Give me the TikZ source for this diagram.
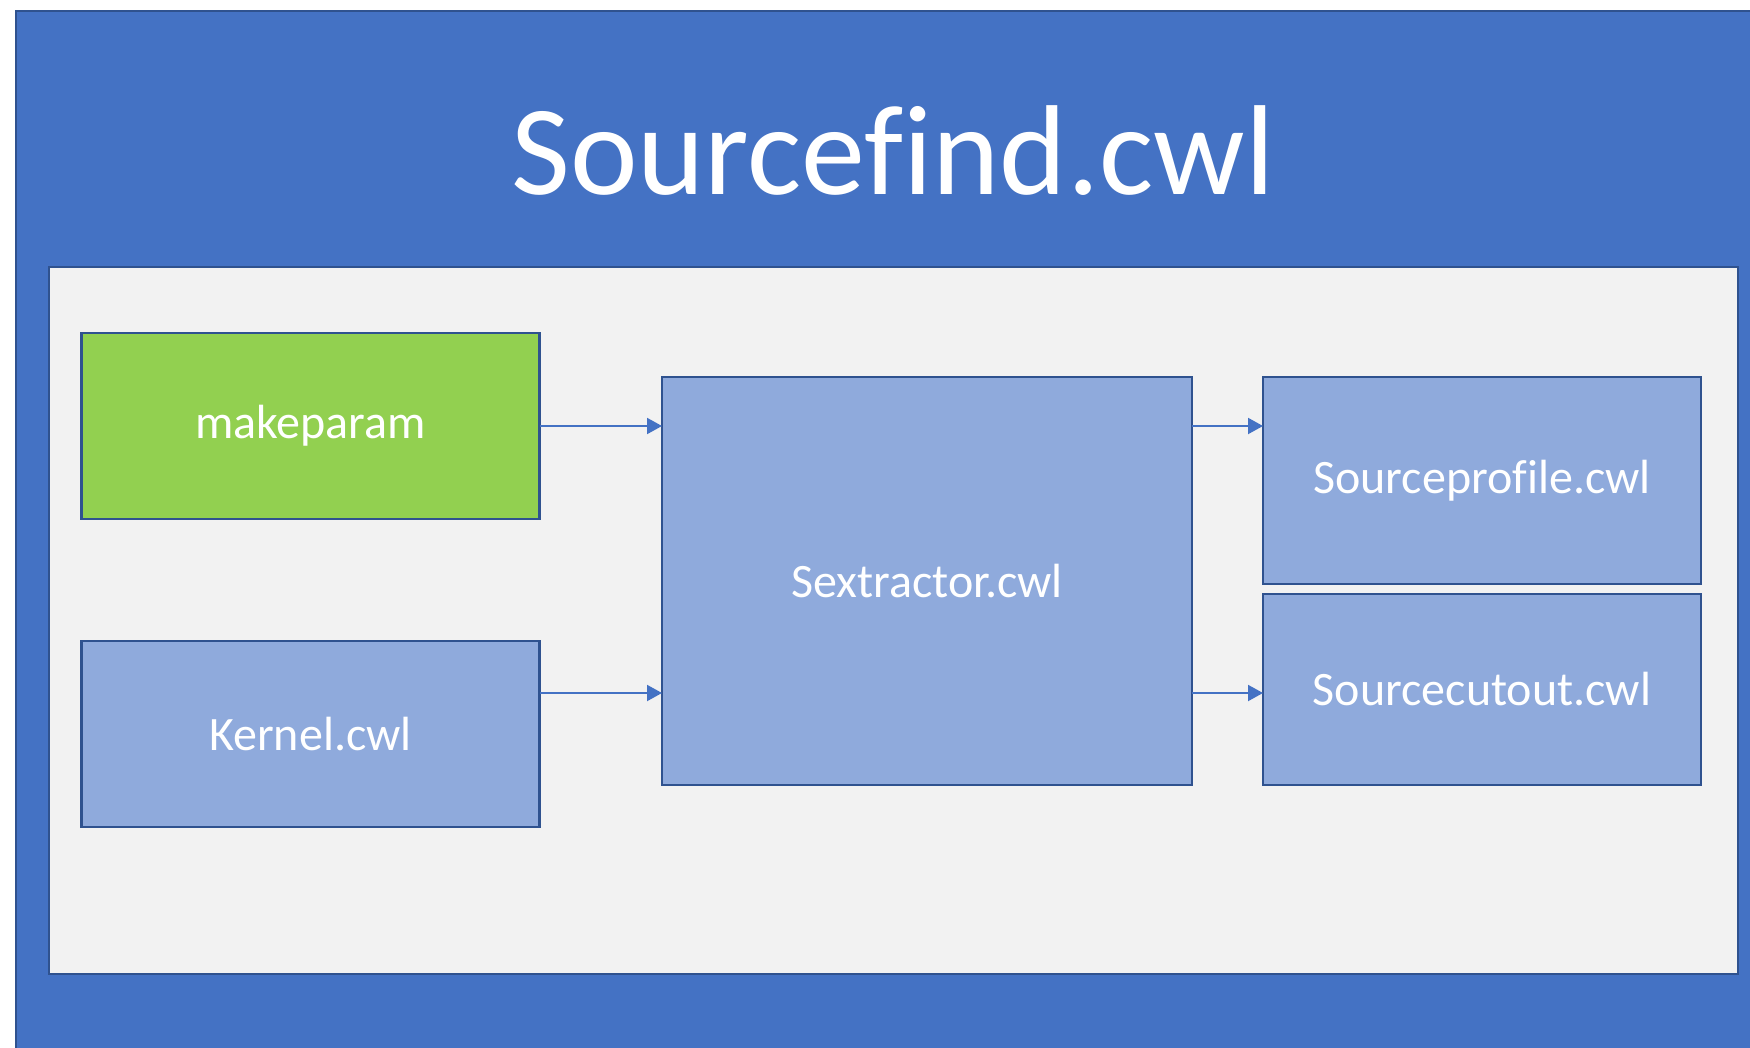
\documentclass[tikz,border=0pt]{standalone}
\usepackage{fontspec}
\setmainfont{Carlito}[Ligatures=NoCommon]
\usetikzlibrary{positioning, arrows.meta}

\definecolor{offblue}{HTML}{4472C4}
\definecolor{darkblue}{HTML}{2F528F}
\definecolor{lightblue}{HTML}{8FAADC}
\definecolor{panelgray}{HTML}{F2F2F2}
\definecolor{paramgreen}{HTML}{92D050}

\begin{document}
\begin{tikzpicture}[
  x=0.5pt, y=-0.5pt,
  % --- node styles ---
  tool/.style={
    draw=darkblue, line width=1.2pt, fill=lightblue,
    text=white, font=\fontsize{24}{28}\selectfont,
    anchor=north west, inner sep=0pt, outer sep=0pt
  },
  param/.style={
    tool, fill=paramgreen
  },
  arr/.style={-{Triangle[length=7.5pt, width=8pt]}, draw=offblue, line width=1pt},
]

\useasboundingbox (0,0) rectangle (1750,1048);
\clip (0,0) rectangle (1750,1048);
\fill[white] (0,0) rectangle (1750,1048);

% ══════════════════════════════════════════════
% OUTER WORKFLOW FRAME
% ══════════════════════════════════════════════

\draw[fill=offblue, draw=darkblue, line width=1.2pt] (16,11) rectangle (1770,1070);

\node[text=white, font=\fontsize{64}{70}\selectfont, anchor=base] (title)
  at (893,195) {Sourcefind.cwl};

\draw[fill=panelgray, draw=darkblue, line width=1.2pt] (49,267) rectangle (1738,974);

% ══════════════════════════════════════════════
% STEPS
% ══════════════════════════════════════════════

\node[param, minimum width=229pt, minimum height=93pt] (makeparam) at (81.5,333) {makeparam};

\node[tool, minimum width=229pt, minimum height=93pt, below=61pt of makeparam.south west,
  anchor=north west] (kernel) {Kernel.cwl};

\node[tool, minimum width=265pt, minimum height=204pt] (sext) at (662,377) {Sextractor.cwl};

\node[tool, minimum width=219pt, minimum height=103.5pt] (prof) at (1263,377) {Sourceprofile.cwl};

\node[tool, minimum width=219pt, minimum height=95.5pt] (cut) at (1263,594) {Sourcecutout.cwl};

% ══════════════════════════════════════════════
% CONNECTORS
% ══════════════════════════════════════════════

\coordinate (kin) at (540,693);

\draw[arr] (makeparam.east) -- (makeparam.east -| sext.west);
\draw[arr] (kin) -- (kin -| sext.west);
\draw[arr] (sext.east |- makeparam.east) -- (prof.west |- makeparam.east);
\draw[arr] (sext.east |- kin) -- (cut.west |- kin);

\end{tikzpicture}
\end{document}
